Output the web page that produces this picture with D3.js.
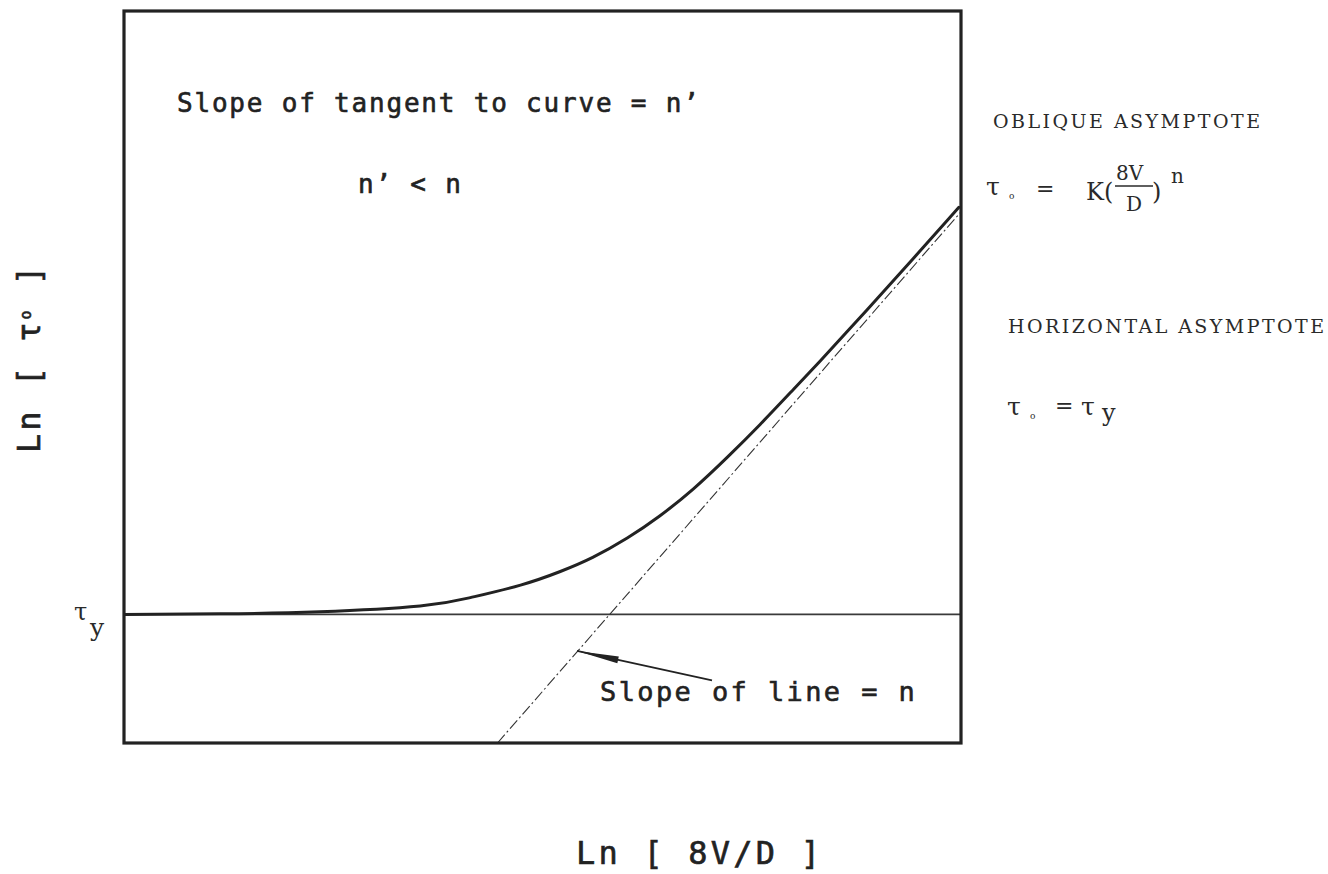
<!DOCTYPE html>
<html>
<head>
<meta charset="utf-8">
<script src="https://cdn.jsdelivr.net/npm/d3@7"></script>
<style>
  body { margin: 0; background: #fff; }
  svg { display: block; }
  .plot { font-family: "DejaVu Sans Mono", monospace; fill: #222; stroke: #222; stroke-width: 0.6px; }
  .type { font-family: "DejaVu Serif", "Liberation Serif", serif; fill: #2a2a2a; }
</style>
</head>
<body>
<svg id="chart" width="1328" height="874"></svg>
<script>
// Axis ranges (natural-log units)
const xDomain = [0, 8];      // Ln[8V/D]
const yDomain = [0, 7];      // Ln[tau_o]

// Yield stress level: horizontal asymptote
const lnTauY = 1.23;

// Flow curve read along Ln[8V/D]
const curveLnRate = [0.00, 0.92, 1.87, 2.83, 3.31, 3.79, 4.17, 4.48, 4.81, 5.12, 5.44, 5.77, 6.08, 6.40, 6.65, 6.91, 7.23, 7.54, 7.87, 7.98];
const curveLnTau  = [1.23, 1.235, 1.255, 1.31, 1.39, 1.51, 1.64, 1.775, 1.96, 2.171, 2.428, 2.736, 3.046, 3.383, 3.649, 3.932, 4.284, 4.629, 4.999, 5.123];

// Oblique asymptote (power-law line, slope n)
const obliqueLnRate = [3.57, 8.00];
const obliqueLnTau  = [0.00, 5.08];

// Leader arrow from "Slope of line = n" to the oblique asymptote
const arrowLnRate = [5.62, 4.33];
const arrowLnTau  = [0.60, 0.88];

const svg = d3.select("#chart");
const W = 1328, H = 874;
const margin = { left: 124, right: W - 961, top: 11, bottom: H - 743 };

const x = d3.scaleLinear().domain(xDomain).range([margin.left, W - margin.right]);
const y = d3.scaleLinear().domain(yDomain).range([H - margin.bottom, margin.top]);

svg.append("defs").append("clipPath").attr("id", "plotClip")
  .append("rect")
  .attr("x", x(xDomain[0])).attr("y", y(yDomain[1]))
  .attr("width", x(xDomain[1]) - x(xDomain[0]))
  .attr("height", y(yDomain[0]) - y(yDomain[1]));

const plot = svg.append("g").attr("clip-path", "url(#plotClip)");

// Horizontal asymptote tau_o = tau_y
plot.append("line")
  .attr("x1", x(xDomain[0])).attr("x2", x(xDomain[1]))
  .attr("y1", y(lnTauY)).attr("y2", y(lnTauY))
  .attr("stroke", "#3a3a3a").attr("stroke-width", 1.6);

// Oblique asymptote (dash-dot)
const lineGen = d3.line().x(d => x(d[0])).y(d => y(d[1]));
plot.append("path")
  .attr("d", lineGen(d3.zip(obliqueLnRate, obliqueLnTau)))
  .attr("fill", "none").attr("stroke", "#333")
  .attr("stroke-width", 1.1).attr("stroke-dasharray", "11,3,2,3");

// Flow curve
plot.append("path")
  .attr("d", d3.line().x(d => x(d[0])).y(d => y(d[1])).curve(d3.curveNatural)(d3.zip(curveLnRate, curveLnTau)))
  .attr("fill", "none").attr("stroke", "#222").attr("stroke-width", 3)
  .attr("stroke-linecap", "round");

// Frame
svg.append("rect")
  .attr("x", x(xDomain[0])).attr("y", y(yDomain[1]))
  .attr("width", x(xDomain[1]) - x(xDomain[0]))
  .attr("height", y(yDomain[0]) - y(yDomain[1]))
  .attr("fill", "none").attr("stroke", "#222").attr("stroke-width", 3.2);

// Leader arrow with slim wedge head
const ax0 = x(arrowLnRate[0]), ay0 = y(arrowLnTau[0]);
const ax1 = x(arrowLnRate[1]), ay1 = y(arrowLnTau[1]);
svg.append("line")
  .attr("x1", ax0).attr("y1", ay0).attr("x2", ax1).attr("y2", ay1)
  .attr("stroke", "#222").attr("stroke-width", 1.8);
{
  const dx = ax0 - ax1, dy = ay0 - ay1, len = Math.hypot(dx, dy);
  const ux = dx / len, uy = dy / len, px = -uy, py = ux;
  const headLen = 42, half = 3.4;
  const bx = ax1 + ux * headLen, by = ay1 + uy * headLen;
  svg.append("path")
    .attr("d", `M${ax1},${ay1} L${bx + px * half},${by + py * half} L${bx - px * half},${by - py * half} Z`)
    .attr("fill", "#222");
}

// Annotations inside the plot
const plotText = (tx, ty, s, size, spacing) =>
  svg.append("text").attr("class", "plot").attr("x", tx).attr("y", ty)
    .attr("font-size", size).attr("letter-spacing", spacing).text(s);

plotText(177, 112, "Slope of tangent to curve = n’", 26, 1.8);
plotText(358, 193, "n’ < n", 26, 1.8);
plotText(600, 701, "Slope of line = n", 27, 2.4);

// Axis titles
plotText(576, 864, "Ln [ 8V/D ]", 32, 3.2);
{
  const t = svg.append("text").attr("class", "plot")
    .attr("transform", "translate(40,453) rotate(-90)")
    .attr("font-size", 32).attr("letter-spacing", 3);
  t.append("tspan").text("Ln [ τ");
  t.append("tspan").attr("font-size", 15).attr("dy", -9).text("o");
  t.append("tspan").attr("dy", 9).text(" ]");
}

// Right-hand notes on the asymptotes (typewriter serif)
const typeText = (tx, ty, s, size, len) => {
  const t = svg.append("text").attr("class", "type").attr("x", tx).attr("y", ty)
    .attr("font-size", size).text(s);
  if (len) t.attr("textLength", len).attr("lengthAdjust", "spacing");
  return t;
};

// tau_y marker on the left, at the yield-stress level
typeText(74, y(lnTauY) + 6, "τ", 24);
typeText(90, y(lnTauY) + 22, "y", 25);

typeText(993, 128, "OBLIQUE ASYMPTOTE", 19, 267);
typeText(986, 195, "τ", 25);
typeText(1009, 199, "o", 9);
typeText(1036, 196, "=", 22);
typeText(1086, 200, "K(", 24);
typeText(1116, 180, "8V", 20);
svg.append("line").attr("x1", 1115).attr("x2", 1153).attr("y1", 186).attr("y2", 186)
  .attr("stroke", "#2a2a2a").attr("stroke-width", 1.3);
typeText(1126, 211, "D", 20);
typeText(1152, 200, ")", 24);
typeText(1171, 183, "n", 20);

typeText(1008, 333, "HORIZONTAL ASYMPTOTE", 19, 316);
typeText(1007, 415, "τ", 25);
typeText(1030, 419, "o", 9);
typeText(1055, 413, "=", 22);
typeText(1081, 415, "τ", 25);
typeText(1102, 421, "y", 24);
</script>
</body>
</html>
